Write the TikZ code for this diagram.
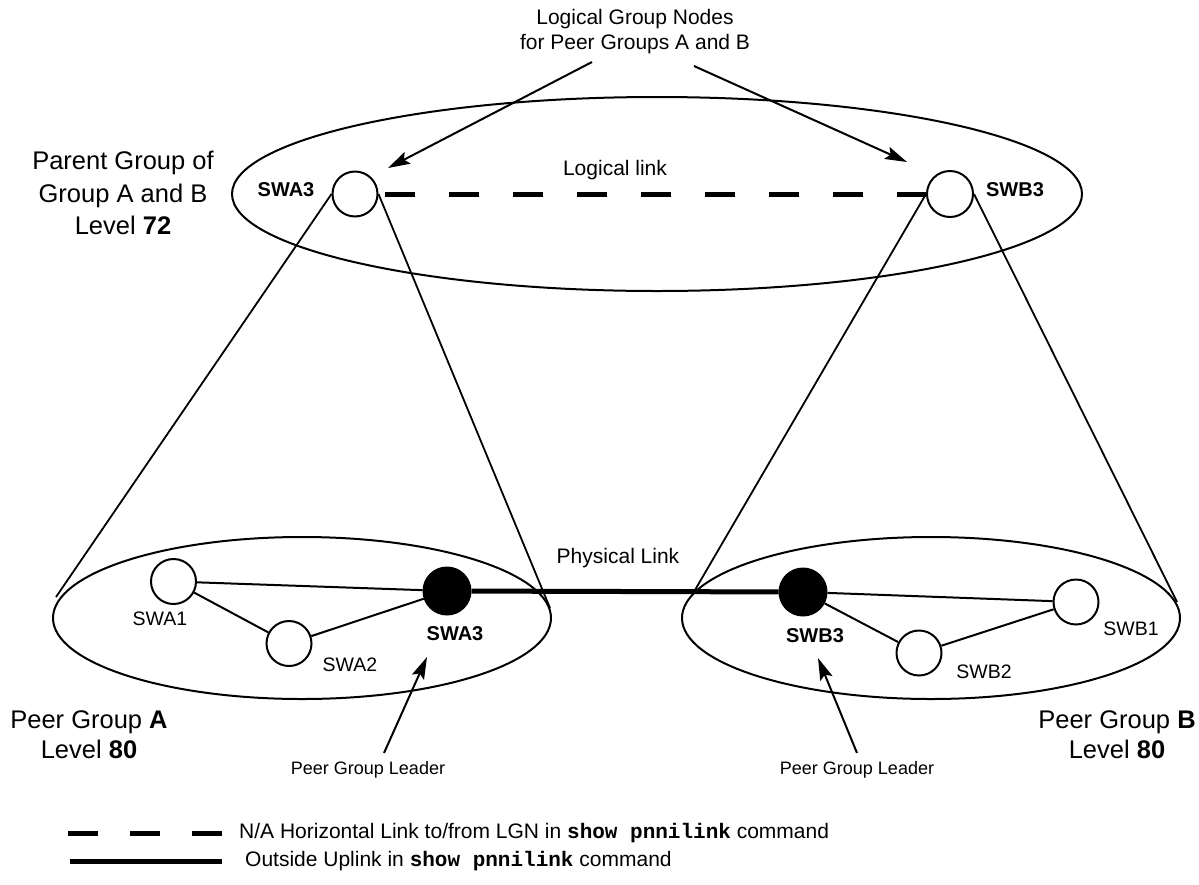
\documentclass[tikz,border=0pt]{standalone}
\usepackage{fontspec}
\setmainfont{Liberation Sans}
\setmonofont{Liberation Mono}
\usetikzlibrary{arrows.meta,shapes.geometric}
\begin{document}
\begin{tikzpicture}[x=1pt,y=-1pt,
  sw/.style={circle, draw, line width=2pt, minimum size=45pt, inner sep=0pt},
  leader/.style={sw, fill=black, minimum size=47pt},
  grp/.style={ellipse, draw, line width=2pt, inner sep=0pt},
  link/.style={line width=2pt},
  cone/.style={line width=1.8pt},
  logical/.style={line width=5pt, dash pattern=on 30pt off 34pt},
  phys/.style={line width=5pt},
  pointer/.style={line width=2pt, -{Stealth[length=22pt,width=13pt,inset=4pt]}},
  big/.style={font=\fontsize{25.5}{32.5}\selectfont, align=center, inner sep=0pt},
  mid/.style={font=\fontsize{21}{25}\selectfont, align=center, inner sep=0pt},
  nlbl/.style={font=\fontsize{19.5}{23}\selectfont, inner sep=0pt},
  blbl/.style={font=\bfseries\fontsize{20}{23}\selectfont, inner sep=0pt},
  small/.style={font=\fontsize{18}{22}\selectfont, inner sep=0pt},
  leg/.style={font=\fontsize{21}{25}\selectfont, inner sep=0pt, anchor=west}
]
\useasboundingbox (0,0) rectangle (1199,884);

% group ellipses
\node[grp, minimum width=850pt, minimum height=194pt] (parent) at (657,194) {};
\node[grp, minimum width=498pt, minimum height=162pt] (pga) at (302,618) {};
\node[grp, minimum width=498pt, minimum height=162pt] (pgb) at (931,618) {};

% top nodes
\node[sw] (tA) at (355,194) {};
\node[sw, minimum size=46pt] (tB) at (950,194) {};
\node[blbl] (tAl) at (286,190) {SWA3};
\node[blbl] (tBl) at (1015,190) {SWB3};

% peer group A
\node[sw] (a1) at (173.5,581.5) {};
\node[sw] (a2) at (289,643.5) {};
\node[leader] (a3) at (447,591) {};
\node[nlbl] (a1l) at (160,619) {SWA1};
\node[nlbl] (a2l) at (350,665) {SWA2};
\node[blbl] (a3l) at (455,634) {SWA3};

% peer group B
\node[sw] (b1) at (1076,602) {};
\node[sw] (b2) at (919,653) {};
\node[leader] (b3) at (803,592) {};
\node[nlbl] (b1l) at (1131,629) {SWB1};
\node[nlbl] (b2l) at (984,672) {SWB2};
\node[blbl] (b3l) at (815,636) {SWB3};

% links inside peer groups
\draw[link] (a1) -- (a3);
\draw[link] (a1) -- (a2);
\draw[link] (a2) -- (a3);
\draw[link] (b3) -- (b1);
\draw[link] (b3) -- (b2);
\draw[link] (b2) -- (b1);

% physical and logical links
\draw[phys] (a3) -- (b3);
\node[mid] (physl) at (618,558) {Physical Link};
\draw[logical] ([xshift=6pt]tA.east) -- (tB.west);
\node[mid] (logl) at (615,170) {Logical link};

% cone lines
\coordinate (cAL) at (56,597);
\coordinate (cAR) at (550,608);
\coordinate (cBL) at (695,590);
\coordinate (cBR) at (1177,602);
\draw[cone] (tA.west) -- (cAL);
\draw[cone] (tA.east) -- (cAR);
\draw[cone] (tB.west) -- (cBL);
\draw[cone] (tB.east) -- (cBR);

% top caption and arrows
\node[mid] (lgn) at (635,32) {Logical Group Nodes\\for Peer Groups A and B};
\coordinate (lgnL) at (592,62);
\coordinate (lgnR) at (694,66);
\coordinate (tipL) at (388,168);
\coordinate (tipR) at (907,162);
\draw[pointer] (lgnL) -- (tipL);
\draw[pointer] (lgnR) -- (tipR);

% side captions
\node[big] (parl) at (123,193) {Parent Group of\\Group A and B\\Level \textbf{72}};
\node[big, font=\fontsize{25.5}{30}\selectfont] (pgal) at (89,735) {Peer Group \textbf{A}\\Level \textbf{80}};
\node[big, font=\fontsize{25.5}{30}\selectfont] (pgbl) at (1117,735) {Peer Group \textbf{B}\\Level \textbf{80}};

% peer group leader pointers
\node[small] (pglA) at (368,770) {Peer Group Leader};
\node[small] (pglB) at (857,770) {Peer Group Leader};
\coordinate (pAt) at (384,753);
\coordinate (pBt) at (857,753);
\coordinate (pAh) at (427,657);
\coordinate (pBh) at (818,658);
\draw[pointer] (pAt) -- (pAh);
\draw[pointer] (pBt) -- (pBh);

% legend
\coordinate (ld1) at (68,833);
\coordinate (ld2) at (222,833);
\coordinate (ls1) at (70,861);
\coordinate (ls2) at (222,861);
\draw[line width=5pt, dash pattern=on 30pt off 32pt] (ld1) -- (ld2);
\draw[phys] (ls1) -- (ls2);
\node[leg] (leg1) at (239,833) {N/A Horizontal Link to/from LGN in \textbf{\texttt{show pnnilink}} command};
\node[leg] (leg2) at (245,861) {Outside Uplink in \textbf{\texttt{show pnnilink}} command};
\end{tikzpicture}
\end{document}
